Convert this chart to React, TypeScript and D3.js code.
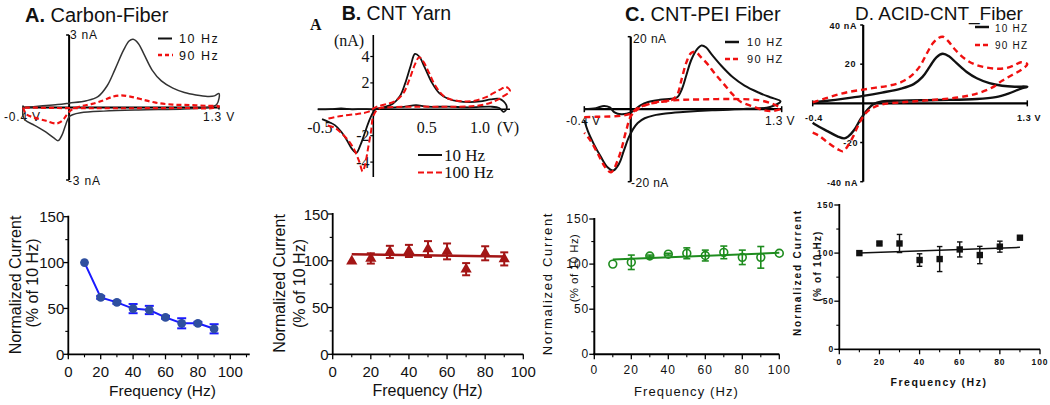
import React from 'react';
import * as d3 from 'd3';

type P = [number, number];

// ---------- Top row: cyclic voltammograms, [potential (V), current (nA)] ----------
const cvA10: P[] = [[-0.4,0],[-0.25,0.06],[-0.1,0.12],[0,0.18],[0.15,0.28],[0.25,0.45],[0.33,0.9],[0.4,1.6],[0.47,2.35],[0.52,2.75],[0.555,2.82],[0.6,2.65],[0.65,2.2],[0.72,1.55],[0.8,1.1],[0.9,0.8],[1.0,0.62],[1.1,0.52],[1.2,0.46],[1.26,0.48],[1.3,0.58],[1.28,0.12],[1.2,0.0],[1.0,-0.06],[0.6,-0.1],[0.3,-0.15],[0.1,-0.22],[0.03,-0.3],[0,-0.38],[-0.03,-0.72],[-0.06,-1.12],[-0.095,-1.37],[-0.13,-1.27],[-0.2,-1.02],[-0.3,-0.74],[-0.38,-0.53],[-0.4,-0.35],[-0.4,0]];
const cvA90: P[] = [[-0.4,0],[-0.37,-0.28],[-0.3,-0.42],[-0.2,-0.55],[-0.11,-0.66],[-0.06,-0.55],[-0.02,-0.3],[0.02,-0.1],[0.1,0.05],[0.2,0.15],[0.3,0.3],[0.38,0.45],[0.45,0.5],[0.52,0.46],[0.62,0.35],[0.75,0.2],[0.9,0.12],[1.05,0.1],[1.2,0.07],[1.3,0.05],[1.25,-0.02],[1.0,-0.02],[0.6,-0.03],[0.2,-0.03],[-0.1,-0.02],[-0.4,0]];

const cvB10: P[] = [[-0.52,0],[-0.4,0.02],[-0.3,0.06],[-0.2,0.0],[-0.1,0.02],[0,0],[0.08,0.12],[0.18,0.4],[0.25,1.0],[0.3,2.0],[0.35,3.3],[0.39,4.2],[0.43,4.0],[0.48,3.2],[0.55,2.0],[0.62,1.2],[0.7,0.8],[0.8,0.6],[0.9,0.55],[1.0,0.6],[1.1,0.75],[1.17,0.8],[1.22,0.6],[1.25,0.1],[1.22,-0.2],[1.18,0.1],[1.1,0.2],[0.9,0.15],[0.7,0.2],[0.5,0.2],[0.4,0.32],[0.3,0.2],[0.15,0.12],[0.03,0.05],[0,-0.2],[-0.04,-0.9],[-0.08,-1.8],[-0.12,-2.7],[-0.16,-3.3],[-0.2,-3.0],[-0.25,-2.3],[-0.3,-1.7],[-0.36,-1.2],[-0.42,-0.95],[-0.48,-0.75]];
const cvB100: P[] = [[-0.42,-0.7],[-0.3,-0.5],[-0.15,-0.35],[-0.05,-0.2],[0.02,0.15],[0.1,0.35],[0.2,0.6],[0.28,1.2],[0.34,2.3],[0.39,3.4],[0.43,3.95],[0.47,3.6],[0.52,2.8],[0.58,1.8],[0.66,1.0],[0.75,0.7],[0.85,0.6],[0.95,0.65],[1.05,0.9],[1.12,1.2],[1.2,1.55],[1.24,1.7],[1.28,1.4],[1.2,0.9],[1.1,0.5],[0.95,0.25],[0.7,0.2],[0.4,0.2],[0.15,0.15],[0.05,0.05],[0.0,-0.5],[-0.02,-1.6],[-0.05,-3.0],[-0.08,-4.3],[-0.1,-4.7],[-0.13,-4.0],[-0.17,-3.2],[-0.22,-2.5],[-0.3,-1.8],[-0.36,-1.4],[-0.44,-1.2]];

const cvC10: P[] = [[-0.4,0],[-0.3,0.3],[-0.23,0.9],[-0.18,0.5],[-0.14,-0.9],[-0.08,-1.4],[0,-0.9],[0.08,1.0],[0.15,2.0],[0.25,2.6],[0.35,2.9],[0.4,3.3],[0.44,5.5],[0.48,9.5],[0.52,13.5],[0.57,16.5],[0.61,17.6],[0.65,17.0],[0.7,15.0],[0.78,12.0],[0.88,8.8],[0.98,6.5],[1.1,4.6],[1.2,3.3],[1.29,2.2],[1.2,0.6],[1.0,0.1],[0.7,-0.3],[0.45,-0.8],[0.3,-1.2],[0.2,-1.7],[0.12,-2.5],[0.06,-3.8],[0.02,-5.5],[-0.02,-8.0],[-0.06,-11.5],[-0.1,-15],[-0.15,-16.9],[-0.2,-16.0],[-0.26,-13.0],[-0.32,-9.5],[-0.37,-6],[-0.4,-3]];
const cvC90: P[] = [[-0.4,-2.2],[-0.3,-2.1],[-0.18,-2.0],[-0.08,-1.8],[0,-1.2],[0.06,0.3],[0.15,1.4],[0.25,2.0],[0.35,2.5],[0.4,4.0],[0.44,8.5],[0.48,13.0],[0.52,15.5],[0.56,15.8],[0.6,14.5],[0.66,12.5],[0.72,10.0],[0.8,7.0],[0.88,4.0],[0.95,2.0],[1.05,0.8],[1.15,-0.3],[1.22,-0.5],[1.29,0.2],[1.22,1.5],[1.1,2.5],[0.9,2.8],[0.6,2.7],[0.4,2.5],[0.2,1.8],[0.06,0],[0,-2],[-0.04,-6],[-0.1,-13],[-0.17,-17.4],[-0.22,-16],[-0.28,-12.5],[-0.35,-8.5],[-0.4,-6.5]];

const cvD10: P[] = [[-0.4,0.5],[-0.3,1.2],[-0.15,2.4],[0,3.8],[0.15,5.5],[0.3,7.5],[0.4,9.8],[0.47,13.5],[0.53,19],[0.58,23.5],[0.63,25.3],[0.68,24],[0.74,20.5],[0.82,16],[0.9,12.8],[1.0,10.3],[1.1,9.0],[1.2,8.5],[1.3,8.5],[1.25,7.5],[1.15,5.0],[1.05,3.2],[0.9,2.2],[0.6,1.7],[0.3,1.4],[0.15,1.0],[0.08,-0.5],[0.03,-3.5],[-0.02,-8],[-0.07,-13.5],[-0.12,-17],[-0.15,-17.9],[-0.2,-17],[-0.28,-14.3],[-0.38,-10.8],[-0.4,-9.9]];
const cvD90: P[] = [[-0.4,0.5],[-0.3,2.5],[-0.2,4.5],[-0.1,6.0],[0,7.0],[0.1,8.0],[0.2,9.0],[0.3,10.8],[0.38,14],[0.45,19],[0.5,25],[0.55,30.5],[0.6,33.5],[0.63,34],[0.67,32],[0.72,28],[0.8,23],[0.88,20],[0.96,18.5],[1.05,17.7],[1.13,18.0],[1.2,19.5],[1.25,21],[1.3,20],[1.25,17],[1.18,14.5],[1.1,11.5],[1.02,8.0],[0.9,5.0],[0.75,3.0],[0.5,1.5],[0.3,0.5],[0.15,-0.5],[0.07,-2.5],[0.02,-5],[-0.03,-10],[-0.08,-17],[-0.13,-22.5],[-0.16,-24.5],[-0.2,-23.5],[-0.28,-20],[-0.35,-16.5],[-0.4,-15]];

// ---------- Bottom row: normalized current (% of 10 Hz) vs frequency ----------
const freqA = [10, 20, 30, 40, 50, 60, 70, 80, 90];
const normA = [100, 62, 56.6, 49.8, 48.3, 40.3, 33.8, 33.8, 27.8];
const errA = [0, 1.5, 1.5, 5, 4.5, 1.5, 5.5, 1.5, 5];

const freqB = [10, 20, 30, 40, 50, 60, 70, 80, 90];
const normB = [99.5, 102.5, 109.5, 110.5, 112.5, 110, 91, 108, 102];
const errB = [0, 5.5, 6.5, 6.5, 8.5, 8.5, 6.5, 7.5, 7];
const fitBx = [10, 90];
const fitBy = [107, 104.5];

const freqC = [10, 20, 30, 40, 50, 60, 70, 80, 90, 100];
const normC = [100, 102, 109, 111, 112, 109.5, 113, 107.5, 107.5, 112];
const errC = [0, 8, 1, 1, 6, 6, 7, 8, 12, 0];
const fitCx = [10, 100];
const fitCy = [105, 112.5];

const freqD = [10, 20, 30, 40, 50, 60, 70, 80, 90];
const normD = [100, 110, 110, 92.8, 93.8, 103.8, 98, 106.7, 116];
const errD = [0, 1.5, 9.4, 6.5, 13, 7.8, 9, 5.7, 0];
const fitDx = [10, 90];
const fitDy = [100, 106];

const xTicks = [0, 20, 40, 60, 80, 100];
const yTicks = [0, 50, 100, 150];

const SANS = '"Liberation Sans", Arial, sans-serif';
const SERIF = '"Liberation Serif", "Times New Roman", serif';

const cvLine = (x: d3.ScaleLinear<number, number>, y: d3.ScaleLinear<number, number>) =>
  d3.line<P>().x(d => x(d[0])).y(d => y(d[1])).curve(d3.curveCatmullRom.alpha(0.5));

type FreqCfg = {
  freqs: number[]; vals: number[]; errs: number[];
  fitX?: number[]; fitY?: number[];
  xr: [number, number]; yr: [number, number]; xEnd: number;
  marker: 'circle' | 'triangle' | 'ocircle' | 'square';
  color: string; lineColor: string; lineW: number; capW: number; errW: number;
  axisW: number;
  tick: React.SVGProps<SVGTextElement>; yTickGap: number; xTickY: number;
};

function FreqPanel(c: FreqCfg) {
  const x = d3.scaleLinear().domain([0, 100]).range(c.xr);
  const y = d3.scaleLinear().domain([0, 150]).range(c.yr);
  const x0 = x(0), y0 = y(0);
  const minorX = d3.range(10, c.xEnd + 0.01, 20);
  const minorY = [25, 75, 125];
  const pts = c.freqs.map((f, i) => [f, c.vals[i]] as P);
  const lineGen = d3.line<P>().x(d => x(d[0])).y(d => y(d[1]));
  const linePts: P[] = c.fitX && c.fitY ? [[c.fitX[0], c.fitY[0]], [c.fitX[1], c.fitY[1]]] : pts;
  const tri = d3.symbol(d3.symbolTriangle, 55)();
  return (
    <g>
      <line x1={x0} x2={x0} y1={y(150) - 1} y2={y0} stroke="#000" strokeWidth={c.axisW} />
      <line x1={x0 - c.axisW / 2} x2={x(c.xEnd)} y1={y0} y2={y0} stroke="#000" strokeWidth={c.axisW} />
      {yTicks.map(t => <line key={'ym' + t} x1={x0 - 5} x2={x0} y1={y(t)} y2={y(t)} stroke="#000" strokeWidth={1.3} />)}
      {minorY.map(t => <line key={'yn' + t} x1={x0 - 3} x2={x0} y1={y(t)} y2={y(t)} stroke="#000" strokeWidth={1.1} />)}
      {xTicks.filter(t => t <= c.xEnd).map(t => <line key={'xm' + t} x1={x(t)} x2={x(t)} y1={y0} y2={y0 + 5} stroke="#000" strokeWidth={1.3} />)}
      {minorX.map(t => <line key={'xn' + t} x1={x(t)} x2={x(t)} y1={y0} y2={y0 + 3} stroke="#000" strokeWidth={1.1} />)}
      {yTicks.map(t => <text key={'yl' + t} x={x0 - c.yTickGap} y={y(t)} textAnchor="end" dominantBaseline="central" {...c.tick}>{t}</text>)}
      {xTicks.map(t => <text key={'xl' + t} x={x(t)} y={c.xTickY} textAnchor="middle" dominantBaseline="central" {...c.tick}>{t}</text>)}
      <path d={lineGen(linePts) || ''} fill="none" stroke={c.lineColor} strokeWidth={c.lineW} />
      {pts.map(([f, v], i) => c.errs[i] > 0 ? (
        <g key={'e' + f} stroke={c.lineColor} strokeWidth={c.errW}>
          <line x1={x(f)} x2={x(f)} y1={y(v + c.errs[i])} y2={y(v - c.errs[i])} />
          <line x1={x(f) - c.capW / 2} x2={x(f) + c.capW / 2} y1={y(v + c.errs[i])} y2={y(v + c.errs[i])} />
          <line x1={x(f) - c.capW / 2} x2={x(f) + c.capW / 2} y1={y(v - c.errs[i])} y2={y(v - c.errs[i])} />
        </g>
      ) : null)}
      {pts.map(([f, v]) => {
        const cx = x(f), cy = y(v);
        if (c.marker === 'circle') return <circle key={'m' + f} cx={cx} cy={cy} r={4.4} fill={c.color} />;
        if (c.marker === 'ocircle') return <circle key={'m' + f} cx={cx} cy={cy} r={3.9} fill="none" stroke={c.color} strokeWidth={1.6} />;
        if (c.marker === 'square') return <rect key={'m' + f} x={cx - 3.2} y={cy - 3.2} width={6.4} height={6.4} fill={c.color} />;
        return <path key={'m' + f} d={tri || ''} transform={`translate(${cx},${cy})`} fill={c.color} />;
      })}
    </g>
  );
}

function RotLabel({ x, y, children, style }: { x: number; y: number; children: React.ReactNode; style: React.SVGProps<SVGTextElement> }) {
  return (
    <text transform={`translate(${x},${y}) rotate(-90)`} textAnchor="middle" dominantBaseline="central" {...style}>{children}</text>
  );
}

export default function App() {
  // --- top row scales ---
  const xA = d3.scaleLinear().domain([-0.4, 1.3]).range([23, 219]);
  const yA = d3.scaleLinear().domain([-3, 3]).range([180, 35]);
  const xB = d3.scaleLinear().domain([0, 1]).range([373.3, 480.1]);
  const yB = d3.scaleLinear().domain([0, 4]).range([109.3, 56.5]);
  const xC = d3.scaleLinear().domain([-0.4, 1.3]).range([584.3, 781.7]);
  const yC = d3.scaleLinear().domain([-20, 20]).range([181.7, 36.7]);
  const xD = d3.scaleLinear().domain([-0.4, 1.3]).range([812.7, 1027.3]);
  const yD = d3.scaleLinear().domain([-40, 40]).range([181.7, 25]);

  const lA = cvLine(xA, yA), lB = cvLine(xB, yB), lC = cvLine(xC, yC), lD = cvLine(xD, yD);

  const smallA = { fontFamily: SANS, fontSize: 12, letterSpacing: 0.8, fill: '#111' };
  const smallC = { fontFamily: SANS, fontSize: 12, letterSpacing: 0.4, fill: '#111' };
  const smallD = { fontFamily: SANS, fontSize: 9, fontWeight: 700, letterSpacing: 0.6, fill: '#111' };
  const serif = { fontFamily: SERIF, fontSize: 16, fill: '#111' };

  return (
    <div style={{ position: 'absolute', left: 0, top: 0 }}>
      <svg width={1050} height={405} style={{ display: 'block', background: '#fff' }}>
        {/* ================= Panel A top ================= */}
        <text x={25} y={22} fontFamily={SANS} fontSize={20} fill="#111">
          <tspan fontWeight={700}>A.</tspan> Carbon-Fiber
        </text>
        <line x1={xA(-0.4)} x2={xA(1.3)} y1={yA(0)} y2={yA(0)} stroke="#000" strokeWidth={2} />
        <line x1={xA(-0.4)} x2={xA(-0.4)} y1={yA(0) - 2} y2={yA(0) + 2} stroke="#000" strokeWidth={1.5} />
        <line x1={xA(1.3)} x2={xA(1.3)} y1={yA(0) - 2} y2={yA(0) + 2} stroke="#000" strokeWidth={1.5} />
        <line x1={xA(0)} x2={xA(0)} y1={yA(3)} y2={yA(-3)} stroke="#000" strokeWidth={2} />
        <line x1={xA(0) - 3} x2={xA(0)} y1={yA(3)} y2={yA(3)} stroke="#000" strokeWidth={1.5} />
        <line x1={xA(0) - 3} x2={xA(0)} y1={yA(-3)} y2={yA(-3)} stroke="#000" strokeWidth={1.5} />
        <text x={70} y={35} dominantBaseline="central" {...smallA}>3 nA</text>
        <text x={68} y={181} dominantBaseline="central" {...smallA}>-3 nA</text>
        <text x={4} y={117} dominantBaseline="central" {...smallA}>-0.4 V</text>
        <text x={203} y={117} dominantBaseline="central" {...smallA}>1.3 V</text>
        <path d={lA(cvA10) || ''} fill="none" stroke="#333" strokeWidth={1.5} />
        <path d={lA(cvA90) || ''} fill="none" stroke="#f01010" strokeWidth={2.2} strokeDasharray="5,3" />
        <line x1={158} x2={172} y1={38.5} y2={38.5} stroke="#111" strokeWidth={2} />
        <text x={179} y={39} dominantBaseline="central" {...smallA} fontSize={12.5} letterSpacing={1.5}>10 Hz</text>
        <line x1={158} x2={173} y1={55} y2={55} stroke="#f01010" strokeWidth={2.5} strokeDasharray="4,3" />
        <text x={179} y={56} dominantBaseline="central" {...smallA} fontSize={12.5} letterSpacing={1.5}>90 Hz</text>

        {/* ================= Panel B top ================= */}
        <text x={341.7} y={20} fontFamily={SANS} fontSize={19.5} fill="#111">
          <tspan fontWeight={700}>B.</tspan> CNT Yarn
        </text>
        <text x={310} y={30} fontFamily={SERIF} fontSize={16} fontWeight={700} fill="#111">A</text>
        <text x={349} y={40} textAnchor="middle" dominantBaseline="central" {...serif}>(nA)</text>
        {[4, 2, -2, -4].map(t => (
          <text key={'by' + t} x={369.5} y={yB(t)} textAnchor="end" dominantBaseline="central" {...serif}>{t}</text>
        ))}
        {[[-0.5, '-0.5'], [0.5, '0.5'], [1.0, '1.0']].map(([v, s]) => (
          <text key={'bx' + s} x={xB(v as number)} y={127} textAnchor="middle" dominantBaseline="central" {...serif}>{s}</text>
        ))}
        <text x={508} y={127} textAnchor="middle" dominantBaseline="central" {...serif}>(V)</text>
        <line x1={xB(-0.52)} x2={xB(1.28)} y1={yB(0)} y2={yB(0)} stroke="#000" strokeWidth={1.6} />
        <line x1={xB(0)} x2={xB(0)} y1={35} y2={177} stroke="#000" strokeWidth={1.6} />
        {[4, 2, -2, -4].map(t => (
          <line key={'bt' + t} x1={xB(0) - 3} x2={xB(0)} y1={yB(t)} y2={yB(t)} stroke="#000" strokeWidth={1.2} />
        ))}
        <path d={lB(cvB10) || ''} fill="none" stroke="#111" strokeWidth={1.8} />
        <path d={lB(cvB100) || ''} fill="none" stroke="#f01010" strokeWidth={2} strokeDasharray="6,3" />
        <line x1={418} x2={442} y1={155} y2={155} stroke="#111" strokeWidth={2} />
        <text x={444} y={155} dominantBaseline="central" fontFamily={SERIF} fontSize={17} fill="#111">10 Hz</text>
        <line x1={418} x2={442} y1={172.5} y2={172.5} stroke="#f01010" strokeWidth={2} strokeDasharray="6,3" />
        <text x={444} y={172.5} dominantBaseline="central" fontFamily={SERIF} fontSize={17} fill="#111">100 Hz</text>

        {/* ================= Panel C top ================= */}
        <text x={625} y={21} fontFamily={SANS} fontSize={20} fill="#111">
          <tspan fontWeight={700}>C.</tspan> CNT-PEI Fiber
        </text>
        <line x1={xC(-0.4)} x2={xC(1.3)} y1={yC(0)} y2={yC(0)} stroke="#000" strokeWidth={2.2} />
        <line x1={xC(-0.4)} x2={xC(-0.4)} y1={yC(0) - 3} y2={yC(0) + 3} stroke="#000" strokeWidth={1.5} />
        <line x1={xC(1.3)} x2={xC(1.3)} y1={yC(0) - 3} y2={yC(0) + 3} stroke="#000" strokeWidth={1.5} />
        <line x1={xC(0)} x2={xC(0)} y1={yC(20)} y2={yC(-20)} stroke="#000" strokeWidth={2.2} />
        <line x1={xC(0) - 3} x2={xC(0)} y1={yC(20)} y2={yC(20)} stroke="#000" strokeWidth={1.5} />
        <line x1={xC(0) - 3} x2={xC(0)} y1={yC(-20)} y2={yC(-20)} stroke="#000" strokeWidth={1.5} />
        <text x={633} y={39} dominantBaseline="central" {...smallC}>20 nA</text>
        <text x={631} y={183} dominantBaseline="central" {...smallC}>-20 nA</text>
        <text x={566} y={121} dominantBaseline="central" {...smallC}>-0.4 V</text>
        <text x={765} y={121} dominantBaseline="central" {...smallC}>1.3 V</text>
        <path d={lC(cvC10) || ''} fill="none" stroke="#111" strokeWidth={2} />
        <path d={lC(cvC90) || ''} fill="none" stroke="#f01010" strokeWidth={2.4} strokeDasharray="6,4" />
        <line x1={725} x2={739} y1={42} y2={42} stroke="#111" strokeWidth={2.5} />
        <text x={747} y={42} dominantBaseline="central" {...smallC} fontSize={11} letterSpacing={1.3}>10 HZ</text>
        <line x1={725} x2={740} y1={59} y2={59} stroke="#f01010" strokeWidth={2.5} strokeDasharray="5,3" />
        <text x={747} y={59} dominantBaseline="central" {...smallC} fontSize={11} letterSpacing={1.3}>90 HZ</text>

        {/* ================= Panel D top ================= */}
        <text x={855} y={20} fontFamily={SANS} fontSize={19} fill="#111">D. ACID-CNT_Fiber</text>
        <line x1={xD(-0.4)} x2={xD(1.3)} y1={yD(0)} y2={yD(0)} stroke="#000" strokeWidth={2.2} />
        <line x1={xD(-0.4)} x2={xD(-0.4)} y1={yD(0) - 3} y2={yD(0) + 3} stroke="#000" strokeWidth={1.5} />
        <line x1={xD(1.3)} x2={xD(1.3)} y1={yD(0) - 3} y2={yD(0) + 3} stroke="#000" strokeWidth={1.5} />
        <line x1={xD(0)} x2={xD(0)} y1={yD(40)} y2={yD(-40)} stroke="#000" strokeWidth={2.2} />
        {[40, 20, -20, -40].map(t => (
          <line key={'dt' + t} x1={xD(0) - 3} x2={xD(0)} y1={yD(t)} y2={yD(t)} stroke="#000" strokeWidth={1.5} />
        ))}
        <text x={857} y={26} textAnchor="end" dominantBaseline="central" {...smallD}>40 nA</text>
        <text x={856} y={64} textAnchor="end" dominantBaseline="central" {...smallD}>20</text>
        <text x={858} y={143} textAnchor="end" dominantBaseline="central" {...smallD}>-20</text>
        <text x={858} y={183} textAnchor="end" dominantBaseline="central" {...smallD}>-40 nA</text>
        <text x={805} y={118} dominantBaseline="central" {...smallD}>-0.4</text>
        <text x={1017} y={118} dominantBaseline="central" {...smallD}>1.3 V</text>
        <path d={lD(cvD10) || ''} fill="none" stroke="#111" strokeWidth={2.4} />
        <path d={lD(cvD90) || ''} fill="none" stroke="#f01010" strokeWidth={2.4} strokeDasharray="6,4" />
        <line x1={975} x2={989} y1={27} y2={27} stroke="#111" strokeWidth={2.5} />
        <text x={995} y={28} dominantBaseline="central" fontFamily={SANS} fontSize={10} letterSpacing={1.2} fill="#111">10 HZ</text>
        <line x1={975} x2={990} y1={45} y2={45} stroke="#f01010" strokeWidth={2.5} strokeDasharray="5,3" />
        <text x={995} y={45} dominantBaseline="central" fontFamily={SANS} fontSize={10} letterSpacing={1.2} fill="#111">90 HZ</text>

        {/* ================= Bottom row ================= */}
        <FreqPanel freqs={freqA} vals={normA} errs={errA} xr={[68.3, 230.3]} yr={[354.3, 216.7]} xEnd={112}
          marker="circle" color="#2f4f9f" lineColor="#1a1aff" lineW={2} capW={9} errW={2} axisW={1.8}
          tick={{ fontFamily: SANS, fontSize: 15, fill: '#111' }} yTickGap={4} xTickY={371} />
        <text x={162.5} y={396} textAnchor="middle" fontFamily={SANS} fontSize={15.5} fill="#111">Frequency (Hz)</text>
        <RotLabel x={15.5} y={285} style={{ fontFamily: SANS, fontSize: 16, fill: '#111' }}>Normalized Current</RotLabel>
        <RotLabel x={32} y={283} style={{ fontFamily: SANS, fontSize: 16, fill: '#111' }}>(% of 10 Hz)</RotLabel>

        <FreqPanel freqs={freqB} vals={normB} errs={errB} fitX={fitBx} fitY={fitBy} xr={[332.7, 523.3]} yr={[354.3, 214]} xEnd={100}
          marker="triangle" color="#a31515" lineColor="#a31515" lineW={2.4} capW={8} errW={2} axisW={1.8}
          tick={{ fontFamily: SANS, fontSize: 15, fill: '#111' }} yTickGap={4} xTickY={371} />
        <text x={427.5} y={396} textAnchor="middle" fontFamily={SANS} fontSize={16} fill="#111">Frequency (Hz)</text>
        <RotLabel x={279.3} y={283.5} style={{ fontFamily: SANS, fontSize: 16, fill: '#111' }}>Normalized Current</RotLabel>
        <RotLabel x={299.7} y={283.5} style={{ fontFamily: SANS, fontSize: 16, fill: '#111' }}>(% of 10 Hz)</RotLabel>

        <FreqPanel freqs={freqC} vals={normC} errs={errC} fitX={fitCx} fitY={fitCy} xr={[594.3, 779.3]} yr={[354.3, 219]} xEnd={100}
          marker="ocircle" color="#1e8c1e" lineColor="#1e8c1e" lineW={2} capW={7} errW={1.6} axisW={2}
          tick={{ fontFamily: SANS, fontSize: 12, letterSpacing: 1, fill: '#111' }} yTickGap={5} xTickY={370} />
        <text x={686.5} y={396} textAnchor="middle" fontFamily={SANS} fontSize={13} letterSpacing={1.1} fill="#111">Frequency (Hz)</text>
        <RotLabel x={547.5} y={283.5} style={{ fontFamily: SANS, fontSize: 13, letterSpacing: 1.7, fill: '#111' }}>Normalized Current</RotLabel>
        <RotLabel x={574} y={268} style={{ fontFamily: SANS, fontSize: 11.5, letterSpacing: 0.4, fill: '#111' }}>(% of 10 Hz)</RotLabel>

        <FreqPanel freqs={freqD} vals={normD} errs={errD} fitX={fitDx} fitY={fitDy} xr={[839.3, 1040]} yr={[349.3, 205]} xEnd={100}
          marker="square" color="#111" lineColor="#111" lineW={1.5} capW={5.5} errW={1.4} axisW={1.8}
          tick={{ fontFamily: SANS, fontSize: 8.5, fontWeight: 700, letterSpacing: 1, fill: '#111' }} yTickGap={5} xTickY={362} />
        <text x={939} y={385.5} textAnchor="middle" fontFamily={SANS} fontSize={10.5} fontWeight={700} letterSpacing={1.5} fill="#111">Frequency (Hz)</text>
        <RotLabel x={797.5} y={272.5} style={{ fontFamily: SANS, fontSize: 10, fontWeight: 700, letterSpacing: 1.9, fill: '#111' }}>Normalized Current</RotLabel>
        <RotLabel x={817} y={266} style={{ fontFamily: SANS, fontSize: 10, fontWeight: 700, letterSpacing: 1.2, fill: '#111' }}>(% of 10 Hz)</RotLabel>
      </svg>
    </div>
  );
}
